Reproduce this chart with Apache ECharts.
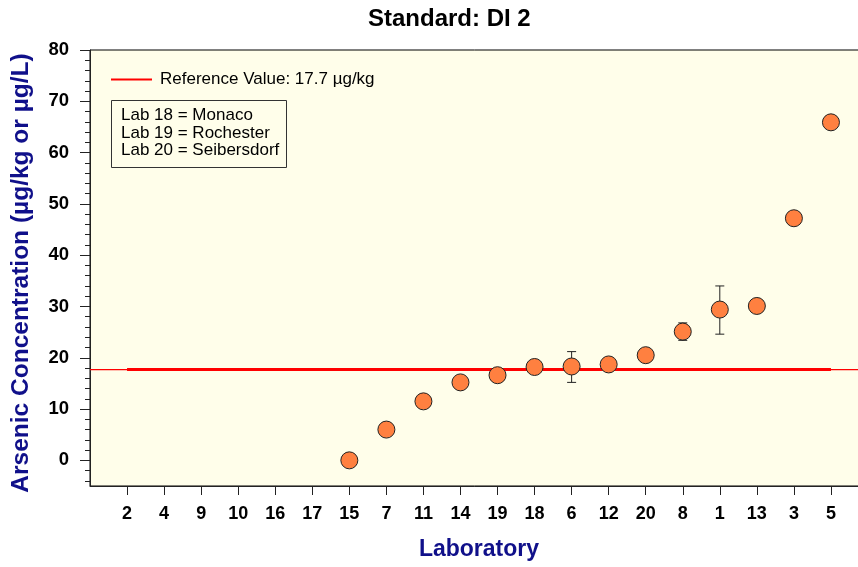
<!DOCTYPE html>
<html>
<head>
<meta charset="utf-8">
<script src="https://cdn.jsdelivr.net/npm/echarts@6/dist/echarts.min.js"></script>
<style>html,body{margin:0;padding:0;background:#fff;}#c{width:858px;height:567px;}</style>
</head>
<body>
<div id="c"></div>
<script>
// ---- data ----
const labs = ['2','4','9','10','16','17','15','7','11','14','19','18','6','12','20','8','1','13','3','5'];
const values = [null,null,null,null,null,null,0,6.0,11.5,15.2,16.6,18.2,18.3,18.7,20.5,25.1,29.4,30.1,47.2,65.9];
const errLow  = [null,null,null,null,null,null,null,null,null,null,null,null,15.2,null,null,23.4,24.6,null,null,null];
const errHigh = [null,null,null,null,null,null,null,null,null,null,null,null,21.2,null,null,26.8,34.0,null,null,null];
const referenceValue = 17.7;
const yLabels = ['0','10','20','30','40','50','60','70','80'];
const yMin = -5, yMax = 80;
const titleText = 'Standard: DI 2';
const refName = 'Reference Value: 17.7 µg/kg';
const labNotes = ['Lab 18 = Monaco','Lab 19 = Rochester','Lab 20 = Seibersdorf'];

// ---- derived ----
const xCats = [''].concat(labs, ['']);
const yCats = [];
for (let v = yMin; v <= yMax; v++) yCats.push(String(v));
const points = [];
labs.forEach((l, i) => { if (values[i] != null) points.push([i + 1, values[i]]); });
const errs = [];
labs.forEach((l, i) => { if (errLow[i] != null) errs.push([i + 1, errLow[i], errHigh[i]]); });

const chart = echarts.init(document.getElementById('c'), null, {renderer: 'canvas'});
const FONT = 'Liberation Sans, Arial, sans-serif';
const NAVY = '#10108a';

chart.setOption({
  animation: false,
  title: [
    {text: titleText, left: 368, top: 7, padding: 0,
     textStyle: {fontFamily: FONT, fontSize: 24, fontWeight: 'bold', color: '#000'}},
    {text: labNotes.join('\n'), left: 111, top: 100, padding: [7, 7, 8, 10],
     borderWidth: 1, borderColor: '#333',
     textStyle: {fontFamily: FONT, fontSize: 17, fontWeight: 'normal', color: '#000', lineHeight: 17.5}}
  ],
  legend: {
    data: [refName], left: 111, top: 71, padding: 0,
    icon: 'rect', itemWidth: 41, itemHeight: 2,
    textStyle: {fontFamily: FONT, fontSize: 17, color: '#000', padding: [0, 0, 0, 3]}
  },
  grid: {left: 90, top: 50, bottom: 81, width: 778, show: true, outerBoundsMode: 'none', containLabel: false,
         backgroundColor: '#fffeea', borderColor: '#000', borderWidth: 1},
  xAxis: {
    type: 'category', data: xCats, boundaryGap: false,
    name: 'Laboratory', nameLocation: 'middle', nameGap: 52,
    nameTextStyle: {fontFamily: FONT, fontSize: 23, fontWeight: 'bold', color: NAVY},
    axisLine: {show: true, onZero: false, lineStyle: {color: '#222', width: 1}},
    axisTick: {show: true, length: 9, interval: (i, v) => v !== '', lineStyle: {color: '#222'}},
    axisLabel: {interval: (i, v) => v !== '', margin: 19, fontFamily: FONT, fontSize: 18,
                fontWeight: 'bold', color: '#000'},
    splitLine: {show: false}
  },
  yAxis: [
    {type: 'value', min: yMin, max: yMax, show: false, splitLine: {show: false}},
    {type: 'category', data: yCats, boundaryGap: false, position: 'left',
     axisLine: {show: true, onZero: false, lineStyle: {color: '#222', width: 1}},
     axisTick: {show: true, length: 5, interval: (i, v) => Number(v) % 2 === 0, lineStyle: {color: '#222'}},
     axisLabel: {show: false}, splitLine: {show: false}},
    {type: 'category', data: yCats, boundaryGap: false, position: 'left',
     name: 'Arsenic Concentration (µg/kg or µg/L)', nameLocation: 'middle', nameGap: 56, nameRotate: 90,
     nameTextStyle: {fontFamily: FONT, fontSize: 24.5, fontWeight: 'bold', color: NAVY, padding: [0, 10, 0, 0]},
     axisLine: {show: false, onZero: false},
     axisTick: {show: true, length: 10, interval: (i, v) => yLabels.indexOf(v) >= 0, lineStyle: {color: '#222'}},
     axisLabel: {interval: (i, v) => yLabels.indexOf(v) >= 0, margin: 21, fontFamily: FONT,
                 fontSize: 18.5, fontWeight: 'bold', color: '#000'},
     splitLine: {show: false}}
  ],
  series: [
    {name: 'refFull', type: 'line', yAxisIndex: 0, symbol: 'none', z: 1, silent: true,
     data: [[0, referenceValue], [xCats.length - 1, referenceValue]],
     lineStyle: {color: '#ff0000', width: 1.2}, itemStyle: {color: '#ff0000'}},
    {name: refName, type: 'line', yAxisIndex: 0, symbol: 'none', z: 2,
     data: [[1, referenceValue], [labs.length, referenceValue]],
     lineStyle: {color: '#ff0000', width: 3}, itemStyle: {color: '#ff0000'}},
    {name: 'err', type: 'custom', yAxisIndex: 0, z: 3, data: errs,
     renderItem: function (params, api) {
       const lo = api.coord([api.value(0), api.value(1)]);
       const hi = api.coord([api.value(0), api.value(2)]);
       const w = 4.5;
       const st = {stroke: '#222', lineWidth: 1};
       return {type: 'group', children: [
         {type: 'line', shape: {x1: lo[0], y1: lo[1], x2: hi[0], y2: hi[1]}, style: st},
         {type: 'line', shape: {x1: lo[0] - w, y1: lo[1], x2: lo[0] + w, y2: lo[1]}, style: st},
         {type: 'line', shape: {x1: hi[0] - w, y1: hi[1], x2: hi[0] + w, y2: hi[1]}, style: st}
       ]};
     }},
    {name: 'labs', type: 'scatter', yAxisIndex: 0, z: 4, data: points, symbol: 'circle', symbolSize: 17,
     itemStyle: {color: '#ff8040', borderColor: '#222', borderWidth: 1, opacity: 1}}
  ]
});
</script>
</body>
</html>
